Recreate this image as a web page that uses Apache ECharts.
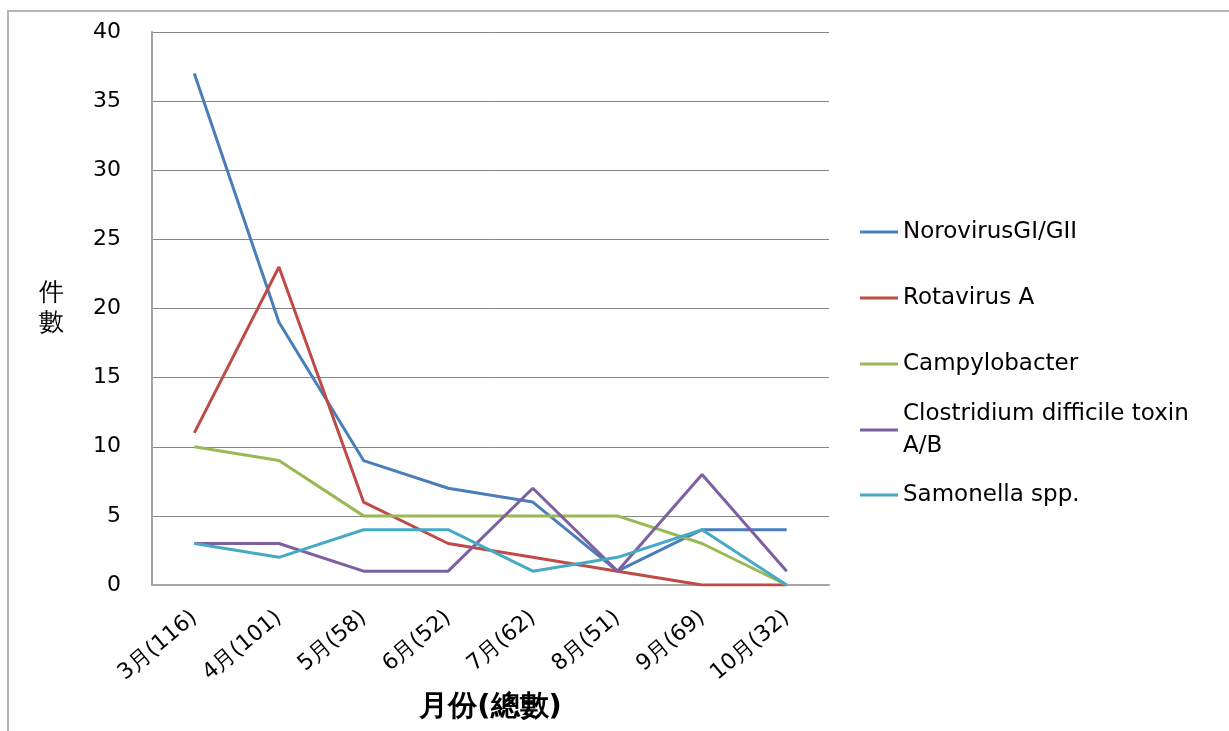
<!DOCTYPE html>
<html>
<head>
<meta charset="utf-8">
<script src="https://cdn.jsdelivr.net/npm/echarts@6/dist/echarts.min.js"></script>
<style>
  html, body { margin: 0; padding: 0; background: #fff; }
  #chart { width: 1229px; height: 731px; }
</style>
</head>
<body>
<div id="chart"></div>
<script>
const months = ["3月(116)", "4月(101)", "5月(58)", "6月(52)", "7月(62)", "8月(51)", "9月(69)", "10月(32)"];
const yTicks = [0, 5, 10, 15, 20, 25, 30, 35, 40];

const norovirus = [37, 19, 9, 7, 6, 1, 4, 4];
const rotavirus = [11, 23, 6, 3, 2, 1, 0, 0];
const campylobacter = [10, 9, 5, 5, 5, 5, 3, 0];
const clostridium = [3, 3, 1, 1, 7, 1, 8, 1];
const samonella = [3, 2, 4, 4, 1, 2, 4, 0];

// legend rows: top of each legend box
const seriesDefs = [
  { name: "NorovirusGI/GII", data: norovirus, color: "#4a7ebb", top: 211 },
  { name: "Rotavirus A", data: rotavirus, color: "#be4b48", top: 277 },
  { name: "Campylobacter", data: campylobacter, color: "#98b954", top: 343 },
  { name: "Clostridium difficile toxin A/B", data: clostridium, color: "#7d60a0", top: 377, twoLine: true },
  { name: "Samonella spp.", data: samonella, color: "#46aac5", top: 474 },
];

const font = "DejaVu Sans";
const chart = echarts.init(document.getElementById("chart"));

chart.setOption({
  animation: false,
  backgroundColor: "#fff",
  textStyle: { fontFamily: font },
  graphic: [
    {
      type: "rect",
      shape: { x: 8, y: 11, width: 1300, height: 800 },
      style: { fill: "none", stroke: "#b4b4b4", lineWidth: 2 },
      silent: true,
    },
  ],
  grid: { left: 152, right: 400, top: 32, bottom: 146 },
  legend: seriesDefs.map((s) => ({
    data: [s.name],
    left: 855,
    top: s.top,
    icon: "rect",
    itemWidth: 38,
    itemHeight: 3,
    selectedMode: false,
    formatter: s.twoLine ? () => "Clostridium difficile toxin\nA/B" : "{name}",
    textStyle: {
      fontFamily: font,
      fontSize: 23,
      color: "#000",
      lineHeight: 32,
      padding: s.twoLine ? [32, 0, 0, 0] : 0,
    },
  })),
  xAxis: {
    type: "category",
    data: months,
    boundaryGap: true,
    name: "月份(總數)",
    nameLocation: "middle",
    nameGap: 108,
    nameTextStyle: { fontSize: 29, fontWeight: "bold", color: "#000", fontFamily: font },
    axisLine: { lineStyle: { color: "#a6a6a6", width: 2 } },
    axisTick: { show: false },
    axisLabel: { rotate: 40, fontSize: 22, color: "#000", margin: 30, interval: 0 },
  },
  yAxis: {
    type: "value",
    min: yTicks[0],
    max: yTicks[yTicks.length - 1],
    interval: 5,
    name: "件\n數",
    nameLocation: "middle",
    nameRotate: 0,
    nameGap: 88,
    nameTextStyle: { fontSize: 25, color: "#000", lineHeight: 30, fontFamily: font },
    axisLine: { show: true, lineStyle: { color: "#a6a6a6", width: 2 } },
    axisTick: { show: false },
    axisLabel: { fontSize: 22, color: "#000", margin: 31 },
    splitLine: { lineStyle: { color: "#868686", width: 1 } },
  },
  series: seriesDefs.map((s) => ({
    name: s.name,
    type: "line",
    data: s.data,
    showSymbol: false,
    symbol: "none",
    lineStyle: { width: 3, color: s.color },
    itemStyle: { color: s.color },
  })),
});
</script>
</body>
</html>
